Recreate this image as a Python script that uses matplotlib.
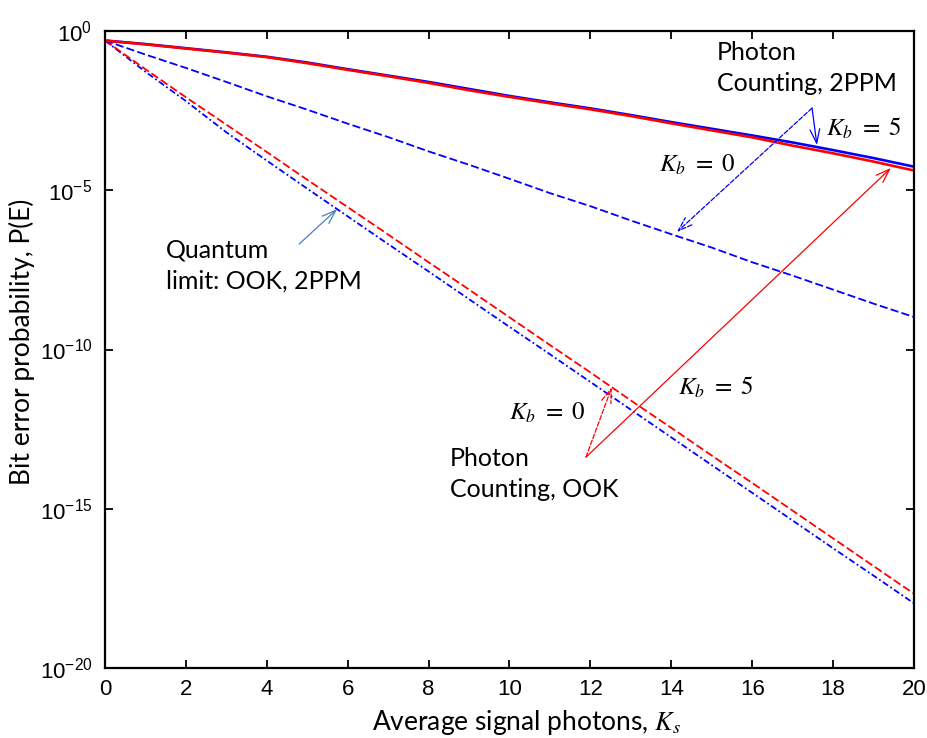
import matplotlib
matplotlib.use('Agg')
import matplotlib.pyplot as plt
import numpy as np
from matplotlib.ticker import FixedLocator, NullLocator

plt.rcParams['font.family'] = 'Liberation Sans'
plt.rcParams['mathtext.fontset'] = 'stix'

# average signal photons
ks = [0, 1, 2, 3, 4, 5, 6, 7, 8, 9, 10, 11, 12, 13, 14, 15, 16, 17, 18, 19, 20]
# -log10 P(E)
nlog_2ppm_kb5 = [0.30, 0.41, 0.54, 0.67, 0.81, 0.99, 1.20, 1.40, 1.60, 1.82, 2.04,
                 2.24, 2.43, 2.64, 2.86, 3.07, 3.28, 3.50, 3.74, 3.99, 4.26]
nlog_ook_kb5 = [0.30, 0.42, 0.55, 0.68, 0.82, 1.01, 1.22, 1.42, 1.63, 1.86, 2.07,
                2.27, 2.46, 2.67, 2.90, 3.12, 3.34, 3.60, 3.84, 4.10, 4.38]
nlog_2ppm_kb0 = [0.30, 0.74, 1.16, 1.60, 2.05, 2.47, 2.91, 3.33, 3.78, 4.20, 4.64,
                 5.09, 5.50, 5.95, 6.38, 6.80, 7.26, 7.68, 8.12, 8.56, 8.98]
nlog_ook_kb0 = [0.30, 1.20, 2.08, 2.94, 3.80, 4.67, 5.53, 6.39, 7.26, 8.12,
                8.99, 9.86, 10.72, 11.60, 12.46, 13.33, 14.19, 15.06, 15.93, 16.80, 17.67]
nlog_quantum = [0.30, 1.28, 2.20, 3.18, 4.07, 4.95, 5.82, 6.69, 7.55, 8.42,
                9.29, 10.15, 11.02, 11.89, 12.76, 13.63, 14.50, 15.37, 16.24, 17.10, 17.97]

ytick_exp = [0, -5, -10, -15, -20]
xticks = [0, 2, 4, 6, 8, 10, 12, 14, 16, 18, 20]


def pe(nlog):
    return 10.0 ** (-np.array(nlog))


fig = plt.figure(figsize=(9.28, 7.38), dpi=100)
ax = fig.add_axes([105/928, 1 - 668/738, 809/928, 637/738])

ax.plot(ks, pe(nlog_quantum), color='blue', lw=1.3, ls=(0, (3.5, 1.5, 1, 1.5)))
ax.plot(ks, pe(nlog_ook_kb0), color='red', lw=1.3, ls=(0, (4.5, 1.8)))
ax.plot(ks, pe(nlog_2ppm_kb0), color='blue', lw=1.3, ls=(0, (4.5, 1.8)))
ax.plot(ks, pe(nlog_2ppm_kb5), color='blue', lw=1.9)
ax.plot(ks, pe(nlog_ook_kb5), color='red', lw=1.9)

ax.set_yscale('log')
ax.set_xlim(0, 20)
ax.set_ylim(1e-20, 1)
ax.yaxis.set_major_locator(FixedLocator([10.0 ** e for e in ytick_exp]))
ax.yaxis.set_minor_locator(NullLocator())
ax.set_yticklabels([r'$\mathregular{10^{%d}}$' % e for e in ytick_exp])
ax.set_xticks(xticks)
ax.set_xticklabels([str(x) for x in xticks])
ax.tick_params(direction='in', top=True, right=True, length=6, width=1.3,
               labelsize=16)
ax.tick_params(axis='y', pad=9)
ax.tick_params(axis='x', pad=8)
for s in ax.spines.values():
    s.set_linewidth(1.6)

cal = ['Lato', 'DejaVu Sans']
ax.set_xlabel(r'Average signal photons, $K_s$', fontsize=19, family=cal)
ax.xaxis.set_label_coords(526/928, 8/738, transform=fig.transFigure)
ax.xaxis.label.set_verticalalignment('baseline')
ax.set_ylabel('Bit error probability, P(E)', fontsize=19, family=cal)
ax.yaxis.set_label_coords(22/928, 1 - 342/738, transform=fig.transFigure)
ax.yaxis.label.set_verticalalignment('center')

# annotations
ax.text(15.13, 10 ** -0.30, 'Photon\nCounting, 2PPM', fontsize=18, family=cal,
        va='top', ha='left', linespacing=1.45)
ax.text(1.51, 10 ** -6.50, 'Quantum\nlimit: OOK, 2PPM', fontsize=18, family=cal,
        va='top', ha='left', linespacing=1.45)
ax.text(8.53, 10 ** -13.05, 'Photon\nCounting, OOK', fontsize=18, family=cal,
        va='top', ha='left', linespacing=1.45)

kb5 = r'$K_b\ =\ 5$'
kb0 = r'$K_b\ =\ 0$'
ax.text(18.76, 10 ** -3.05, kb5, fontsize=18, ha='center', va='center')
ax.text(14.64, 10 ** -4.21, kb0, fontsize=18, ha='center', va='center')
ax.text(10.93, 10 ** -12.0, kb0, fontsize=18, ha='center', va='center')
ax.text(15.1, 10 ** -11.18, kb5, fontsize=18, ha='center', va='center')

head = '->,head_length=1.0,head_width=0.35'
ax.annotate('', xy=(17.6, 10 ** -3.58), xytext=(17.48, 10 ** -2.42),
            arrowprops=dict(arrowstyle=head, color='blue', lw=0.9,
                            shrinkA=0, shrinkB=0))
ax.annotate('', xy=(14.14, 10 ** -6.31), xytext=(17.48, 10 ** -2.42),
            arrowprops=dict(arrowstyle=head, color='blue', lw=0.9, ls='--',
                            shrinkA=0, shrinkB=0))
ax.annotate('', xy=(19.43, 10 ** -4.30), xytext=(11.89, 10 ** -13.38),
            arrowprops=dict(arrowstyle=head, color='red', lw=0.9,
                            shrinkA=0, shrinkB=0))
ax.annotate('', xy=(12.53, 10 ** -11.18), xytext=(11.89, 10 ** -13.38),
            arrowprops=dict(arrowstyle=head, color='red', lw=0.9, ls='--',
                            shrinkA=0, shrinkB=0))
ax.annotate('', xy=(5.74, 10 ** -5.59), xytext=(4.80, 10 ** -6.69),
            arrowprops=dict(arrowstyle=head, color='#4a7ebb', lw=0.9,
                            shrinkA=0, shrinkB=0))

fig.savefig('out.png', dpi=100)
